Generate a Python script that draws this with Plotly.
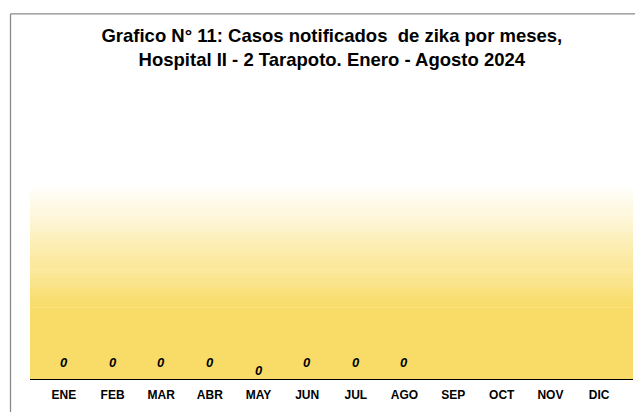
import plotly.graph_objects as go

months = ["ENE", "FEB", "MAR", "ABR", "MAY", "JUN", "JUL", "AGO", "SEP", "OCT", "NOV", "DIC"]
cases = [0, 0, 0, 0, 0, 0, 0, 0, None, None, None, None]
title_lines = ["Grafico N° 11: Casos notificados  de zika por meses,",
               "Hospital II - 2 Tarapoto. Enero - Agosto 2024"]

# page body has an 8px margin, so the figure is sized to the visible area
W, H = 635, 404
ML, MR, MT, MB = 22, 10, 177, 27

fig = go.Figure()
fig.add_trace(go.Scatter(x=months, y=[0] * len(months), mode="markers",
                         marker=dict(opacity=0), hoverinfo="skip", showlegend=False))

# gradient background (white at top -> yellow)
top_c = (255, 255, 255)
bot_c = (249, 220, 104)
solid_frac = 0.37
n = 60
shapes = []
shapes.append(dict(type="rect", xref="paper", yref="paper", x0=0, x1=1, y0=0, y1=solid_frac,
                   fillcolor="rgb(%d,%d,%d)" % bot_c, line=dict(width=0), layer="below"))
for i in range(n):
    y0 = solid_frac + (1 - solid_frac) * i / n
    y1 = solid_frac + (1 - solid_frac) * (i + 1) / n
    t = (i + 0.5) / n
    c = tuple(round(bot_c[k] + (top_c[k] - bot_c[k]) * t) for k in range(3))
    shapes.append(dict(type="rect", xref="paper", yref="paper", x0=0, x1=1, y0=y0, y1=y1 + 0.002,
                       fillcolor="rgb(%d,%d,%d)" % c, line=dict(width=0), layer="below"))

# outer chart border (left and top lines)
pw = W - ML - MR
ph = H - MT - MB
bx = (2.5 - ML) / pw
by = (H - MB - 0.5) / ph
shapes.append(dict(type="line", xref="paper", yref="paper", x0=bx, x1=bx, y0=by, y1=-0.3,
                   line=dict(color="#8a8a8a", width=1.3)))
shapes.append(dict(type="line", xref="paper", yref="paper", x0=bx, x1=1.1, y0=by, y1=by,
                   line=dict(color="#8a8a8a", width=1.3)))

label_shift = {"MAY": 9}
annotations = []
for m, v in zip(months, cases):
    if v is None:
        continue
    annotations.append(dict(x=m, y=v, xref="x", yref="y", text="<b><i>%d</i></b>" % v,
                            showarrow=False, yshift=label_shift.get(m, 17),
                            font=dict(family="Liberation Sans, Arial, sans-serif", size=13, color="black")))

fig.update_layout(
    width=W, height=H,
    margin=dict(l=ML, r=MR, t=MT, b=MB),
    paper_bgcolor="white", plot_bgcolor="rgba(0,0,0,0)",
    shapes=shapes, annotations=annotations,
    title=dict(text="<b>" + "<br>".join(title_lines) + "</b>",
               x=0.510, xanchor="center", y=0.915, yanchor="middle", yref="container",
               font=dict(family="Liberation Sans, Arial, sans-serif", size=18.5, color="black")),
    xaxis=dict(type="category", categoryorder="array", categoryarray=months,
               showgrid=False, zeroline=False, showline=True, linecolor="black", linewidth=1,
               ticks="", ticklabelstandoff=5,
               tickfont=dict(family="Liberation Sans, Arial, sans-serif", size=12, color="black"),
               fixedrange=True),
    yaxis=dict(range=[0, 10], visible=False, fixedrange=True),
    showlegend=False,
)
fig.update_xaxes(tickprefix="<b>", ticksuffix="</b>")

fig.write_html("out.html")
